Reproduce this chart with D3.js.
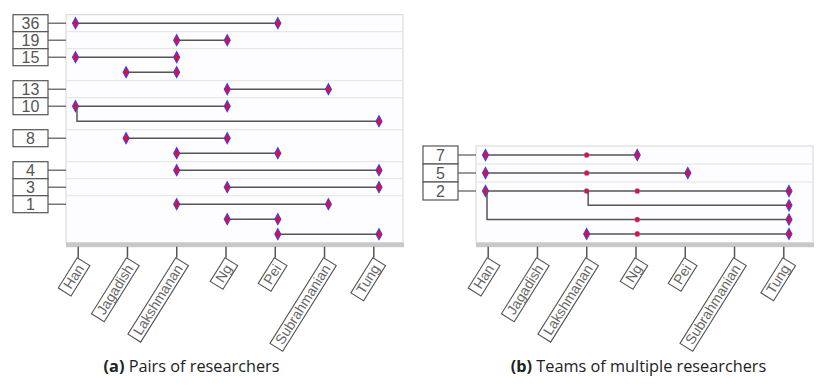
<!DOCTYPE html>
<html lang="en">
<head>
  <meta charset="UTF-8">
  <title>Researcher groups</title>
  <script src="https://cdnjs.cloudflare.com/ajax/libs/d3/7.8.5/d3.min.js"></script>
  <style>
    body { margin: 0; background: #fff; }
    svg { display: block; }
    .cap { font-family: "Open Sans", sans-serif; font-size: 16.3px; fill: #222; }
  </style>
</head>
<body>
  <svg id="chart" width="826" height="392"></svg>
  <script>
    // researchers on the x axis
    const researchers = ["Han", "Jagadish", "Lakshmanan", "Ng", "Pei", "Subrahmanian", "Tung"];

    // (a) pairs: number of papers and the pairs in each group
    const pairCounts = [36, 19, 15, 13, 10, 8, 4, 3, 1];
    const pairRows = [
      [{ members: ["Han", "Pei"] }],
      [{ members: ["Lakshmanan", "Ng"] }],
      [{ members: ["Han", "Lakshmanan"] }, { members: ["Jagadish", "Lakshmanan"] }],
      [{ members: ["Ng", "Subrahmanian"] }],
      [{ members: ["Han", "Ng"] }, { members: ["Han", "Tung"], branch: "Han" }],
      [{ members: ["Jagadish", "Ng"] }, { members: ["Lakshmanan", "Pei"] }],
      [{ members: ["Lakshmanan", "Tung"] }],
      [{ members: ["Ng", "Tung"] }],
      [{ members: ["Lakshmanan", "Subrahmanian"] }, { members: ["Ng", "Pei"] }, { members: ["Pei", "Tung"] }]
    ];

    // (b) teams of more than two
    const teamCounts = [7, 5, 2];
    const teamRows = [
      [{ members: ["Han", "Lakshmanan", "Ng"] }],
      [{ members: ["Han", "Lakshmanan", "Pei"] }],
      [
        { members: ["Han", "Lakshmanan", "Ng", "Tung"] },
        { members: ["Lakshmanan", "Tung"], branch: "Lakshmanan" },
        { members: ["Han", "Ng", "Tung"], branch: "Han" },
        { members: ["Lakshmanan", "Ng", "Tung"] }
      ]
    ];

    const svg = d3.select("#chart");
    const red = "#e3102c", blue = "#3b3bff", ink = "#555";

    function panel(opts, counts, groups) {
      const { left, top, bottom, h0, h, caption, capX } = opts;
      const right = left + 337;
      const g = svg.append("g");

      const xMark = d3.scalePoint().domain(researchers).range([left + 9.5, left + 313]);
      const xTick = d3.scalePoint().domain(researchers).range([left + 11.7, left + 307.3]);

      // plot frame and the grey bar at the bottom
      g.append("rect").attr("x", left).attr("y", top).attr("width", right - left).attr("height", bottom - top)
        .attr("fill", "#fdfcff").attr("stroke", "#d6d6d6");
      g.append("rect").attr("x", left).attr("y", bottom).attr("width", right - left + 1).attr("height", 4.5)
        .attr("fill", "#c8c8c8");

      // lay out groups: first row h0 high, following rows h
      let y = top;
      const layout = groups.map((rows, i) => {
        const gTop = y;
        const ys = rows.map((r, j) => gTop + h0 / 2 + j * h);
        y = gTop + h0 + (rows.length - 1) * h;
        return { count: counts[i], rows, gTop, ys };
      });

      layout.forEach((d, i) => {
        if (i > 0) {
          g.append("line").attr("x1", left + 1).attr("x2", right - 1).attr("y1", d.gTop).attr("y2", d.gTop)
            .attr("stroke", "#e2e2e2");
        }
        // count box + connector
        g.append("line").attr("x1", left - 18).attr("x2", left).attr("y1", d.ys[0]).attr("y2", d.ys[0])
          .attr("stroke", ink).attr("stroke-width", 1.2);
        g.append("rect").attr("x", left - 53).attr("y", d.gTop).attr("width", 35).attr("height", h0)
          .attr("fill", "#fff").attr("stroke", ink).attr("stroke-width", 1.2);
        g.append("text").attr("x", left - 35.5).attr("y", d.gTop + h0 / 2 + 6)
          .attr("text-anchor", "middle").style("font-family", "'Liberation Sans', Arial, sans-serif")
          .style("font-size", "16px").attr("fill", ink).text(d.count);
      });

      // segments
      layout.forEach(d => {
        d.rows.forEach((r, j) => {
          const ry = d.ys[j];
          const last = r.members[r.members.length - 1];
          if (r.branch) {
            const bx = xMark(r.branch) + 1.5;
            g.append("path").attr("d", `M${bx},${d.ys[0]}V${ry}H${xMark(last)}`)
              .attr("fill", "none").attr("stroke", ink).attr("stroke-width", 1.5);
          } else {
            g.append("line").attr("x1", xMark(r.members[0])).attr("x2", xMark(last)).attr("y1", ry).attr("y2", ry)
              .attr("stroke", ink).attr("stroke-width", 1.5);
          }
          r.members.forEach((m, k) => {
            if (r.branch && m === r.branch) return;
            const end = k === 0 || k === r.members.length - 1;
            if (end) {
              g.append("path").attr("d", "M0,-5.5L3,0L0,5.5L-3,0Z")
                .attr("transform", `translate(${xMark(m)},${ry})`)
                .attr("fill", red).attr("stroke", blue).attr("stroke-width", 1.1);
            } else {
              g.append("circle").attr("cx", xMark(m)).attr("cy", ry).attr("r", 2.6)
                .attr("fill", red).attr("stroke", "#8080ff").attr("stroke-width", 0.5);
            }
          });
        });
      });

      // axis with boxed, rotated labels
      const ax = g.append("g").attr("transform", `translate(0,${bottom + 4})`)
        .call(d3.axisBottom(xTick).tickSize(11).tickSizeOuter(0));
      ax.attr("font-size", null).attr("font-family", null);
      ax.select(".domain").remove();
      ax.selectAll(".tick line").attr("stroke", ink).attr("stroke-width", 1.5);
      ax.selectAll(".tick").each(function () {
        const t = d3.select(this).select("text")
          .style("font-family", "'Liberation Sans', Arial, sans-serif")
          .style("font-size", "14px").attr("fill", "#666");
        const w = t.node().getComputedTextLength();
        const tr = "translate(-1,11) rotate(-58)";
        t.attr("transform", tr).attr("x", -5).attr("y", 12).attr("dy", null).attr("text-anchor", "end");
        d3.select(this).insert("rect", "text").attr("transform", tr)
          .attr("x", -(w + 10)).attr("y", 0).attr("width", w + 10).attr("height", 15)
          .attr("fill", "#fff").attr("stroke", ink).attr("stroke-width", 1.1);
      });

      const cap = g.append("text").attr("class", "cap").attr("x", capX).attr("y", 372).attr("text-anchor", "middle");
      cap.append("tspan").attr("font-weight", "bold").text(caption[0]);
      cap.append("tspan").text(" " + caption[1]);
    }

    panel({ left: 66, top: 14.7, bottom: 242.7, h0: 17, h: 15, caption: ["(a)", "Pairs of researchers"], capX: 191.5 },
      pairCounts, pairRows);
    panel({ left: 476, top: 146, bottom: 242.7, h0: 18, h: 14.3, caption: ["(b)", "Teams of multiple researchers"], capX: 638.5 },
      teamCounts, teamRows);
  </script>
</body>
</html>
